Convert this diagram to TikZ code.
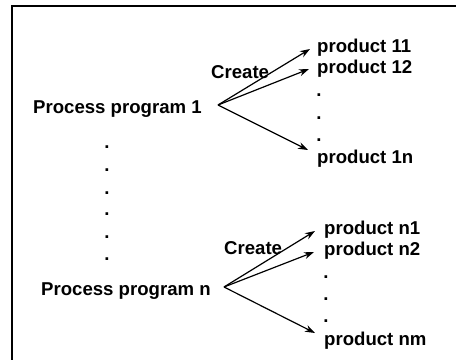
\documentclass[tikz,border=0pt]{standalone}
\usepackage{fontspec}
\setmainfont{Liberation Sans}
\usetikzlibrary{arrows.meta}
\begin{document}
\begin{tikzpicture}[x=1pt,y=-1pt,
  lbl/.style={inner sep=0pt,anchor=base west,font=\fontsize{18.6}{20}\selectfont\bfseries},
  vdot/.style={inner sep=0pt,anchor=base,font=\fontsize{18.6}{20}\selectfont\bfseries},
  arr/.style={line width=1.2pt,-{Stealth[length=10pt,width=7pt]}},
  frame/.style={line width=1.5pt}]
\useasboundingbox (0,0) rectangle (456,360);
% frame: top and left edges only
\draw[frame] (456,6) -- (12,6) -- (12,360);

% first process program and its products
\node[lbl] (proc1) at (33,113) {Process program 1};
\node[lbl] (c1) at (211,78) {Create};
\node[lbl] (p11) at (317,52) {product 11};
\node[lbl] (p12) at (317,73) {product 12};
\node[vdot] (d11) at (319,96) {.};
\node[vdot] (d12) at (319,119) {.};
\node[vdot] (d13) at (319,141) {.};
\node[lbl] (p1n) at (317,163) {product 1n};
\coordinate (o1) at (218,105);
\draw[arr] (o1) -- ([xshift=-7pt,yshift=3pt]p11.base west);
\draw[arr] (o1) -- ([xshift=-8pt,yshift=4pt]p12.base west);
\draw[arr] (o1) -- ([xshift=-9pt,yshift=13pt]p1n.base west);

% vertical ellipsis between the programs
\node[vdot] (v1) at (107,148) {.};
\node[vdot] (v2) at (107,171) {.};
\node[vdot] (v3) at (107,194) {.};
\node[vdot] (v4) at (107,215) {.};
\node[vdot] (v5) at (107,238) {.};
\node[vdot] (v6) at (107,260) {.};

% last process program and its products
\node[lbl] (procn) at (41,295) {Process program n};
\node[lbl] (cn) at (224,254) {Create};
\node[lbl] (pn1) at (324,234) {product n1};
\node[lbl] (pn2) at (324,255) {product n2};
\node[vdot] (dn1) at (326,278) {.};
\node[vdot] (dn2) at (326,300) {.};
\node[vdot] (dn3) at (326,322) {.};
\node[lbl] (pnm) at (324,345) {product nm};
\coordinate (on) at (224,287);
\draw[arr] (on) -- ([xshift=-9pt,yshift=3pt]pn1.base west);
\draw[arr] (on) -- ([xshift=-10pt,yshift=3pt]pn2.base west);
\draw[arr] (on) -- ([xshift=-9pt,yshift=12pt]pnm.base west);
\end{tikzpicture}
\end{document}
